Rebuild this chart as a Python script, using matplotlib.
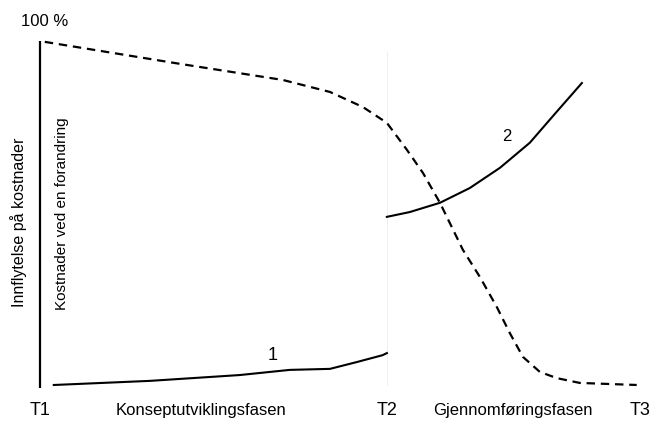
import matplotlib
matplotlib.use("Agg")
import matplotlib.pyplot as plt

plt.rcParams['font.family'] = ['Liberation Sans', 'DejaVu Sans']

# Time axis: T1 = 0, T2 = 1, T3 ~ 1.73 ; y in percent
tick_labels = ["T1", "T2", "T3"]
tick_pos = [0.0, 1.0, 1.73]
phase_labels = ["Konseptutviklingsfasen", "Gjennomføringsfasen"]
phase_pos = [0.464, 1.364]

# Dashed curve: influence on costs
infl_x = [0.014, 0.403, 0.700, 0.836, 0.931, 1.0, 1.058, 1.104, 1.153, 1.219,
          1.268, 1.317, 1.354, 1.392, 1.441, 1.490, 1.556, 1.720]
infl_y = [100, 93.6, 88.9, 85.4, 81.0, 76.4, 68.5, 61.8, 53.1, 39.4,
          31.5, 22.7, 15.2, 8.2, 3.8, 2.0, 0.6, 0.0]

# Curve 1: cost of change, concept phase
c1_x = [0.04, 0.317, 0.576, 0.720, 0.836, 0.914, 0.988, 1.0]
c1_y = [0.0, 1.2, 2.9, 4.4, 4.7, 6.7, 8.7, 9.3]

# Curve 2: cost of change, execution phase
c2_x = [1.0, 1.066, 1.153, 1.239, 1.326, 1.412, 1.484, 1.562]
c2_y = [49.0, 50.4, 53.1, 57.4, 63.3, 70.6, 79.0, 88.0]

fig = plt.figure(figsize=(6.53, 4.25), dpi=100)
ax = fig.add_axes([0, 0, 1, 1])
ax.set_xlim(-0.115, 1.767)
ax.set_ylim(-11.66, 112.2)
ax.axis('off')

# y axis line
ax.plot([0, 0], [-0.9, 100.3], color='black', lw=1.6, solid_capstyle='butt')
# faint separator at T2
ax.plot([1.0, 1.0], [0, 97], color='#ececec', lw=0.6)

ax.plot(infl_x, infl_y, color='black', lw=1.6, dashes=(3.8, 2.6))
ax.plot(c1_x, c1_y, color='black', lw=1.5)
ax.plot(c2_x, c2_y, color='black', lw=1.5)

ax.text(0.67, 8.6, "1", fontsize=13, ha='center', va='center')
ax.text(1.345, 72.5, "2", fontsize=12, ha='center', va='center')

ax.text(0.015, 106, "100 %", fontsize=12, ha='center', va='center')
for p, t in zip(tick_pos, tick_labels):
    ax.text(p, -7.5, t, fontsize=13, ha='center', va='center')
for p, t in zip(phase_pos, phase_labels):
    ax.text(p, -7.5, t, fontsize=12, ha='center', va='center')

ax.text(-0.063, 47.5, "Innflytelse på kostnader", fontsize=11.5, rotation=90,
        ha='center', va='center')
ax.text(0.063, 50, "Kostnader ved en forandring", fontsize=11, rotation=90,
        ha='center', va='center')

fig.savefig("out.png", dpi=100)
